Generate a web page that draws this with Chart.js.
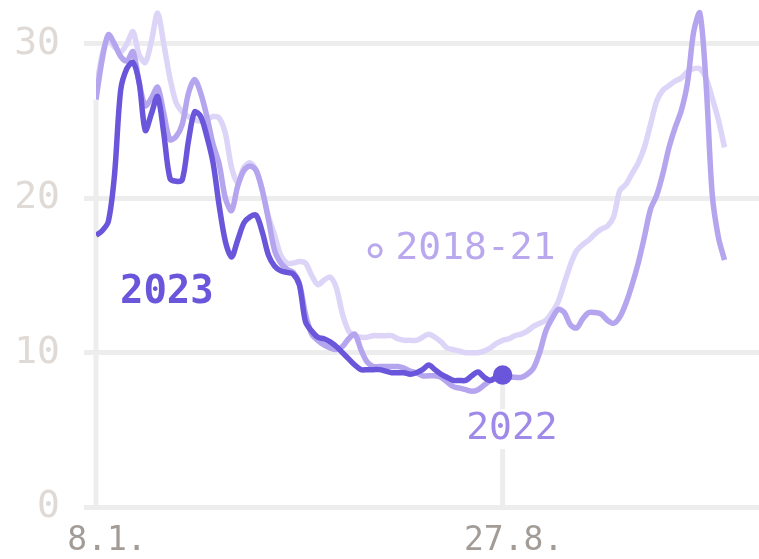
<!DOCTYPE html>
<html>
<head>
<meta charset="utf-8">
<script src="https://cdn.jsdelivr.net/npm/chart.js@4"></script>
<style>
  body { margin: 0; background: #fff; }
  #wrap { width: 759px; height: 559px; }
</style>
</head>
<body>
<div id="wrap"><canvas id="fluChart" width="759" height="559"></canvas></div>
<script>
// weekly dates, week 0 = 8.1.
const weekLabels = ["8.1.", "15.1.", "22.1.", "29.1.", "5.2.", "12.2.", "19.2.", "26.2.",
  "5.3.", "12.3.", "19.3.", "26.3.", "2.4.", "9.4.", "16.4.", "23.4.", "30.4.",
  "7.5.", "14.5.", "21.5.", "28.5.", "4.6.", "11.6.", "18.6.", "25.6.",
  "2.7.", "9.7.", "16.7.", "23.7.", "30.7.", "6.8.", "13.8.", "20.8.", "27.8.",
  "3.9.", "10.9.", "17.9.", "24.9.", "1.10.", "8.10.", "15.10.", "22.10.", "29.10.",
  "5.11.", "12.11.", "19.11.", "26.11.", "3.12.", "10.12.", "17.12.", "24.12.", "31.12."];
const tickWeeks = [0, 33];
const yTicks = [0, 10, 20, 30];

// values every half week
const step = 0.5;
const values2023 = [17.6, 17.9, 18.5, 21.5, 27.0, 28.4, 28.8, 27.5, 24.4, 25.5,
  26.6, 24.2, 21.3, 21.1, 21.2, 23.7, 25.6, 25.3, 24.0, 22.3,
  19.5, 17.2, 16.2, 17.3, 18.4, 18.8, 18.9, 17.8, 16.3, 15.6,
  15.3, 15.2, 15.1, 14.4, 12.0, 11.4, 11.0, 10.9, 10.7, 10.4,
  10.0, 9.6, 9.2, 8.9, 8.9, 8.9, 8.9, 8.8, 8.7, 8.7,
  8.7, 8.6, 8.7, 8.9, 9.2, 8.9, 8.6, 8.4, 8.2, 8.2,
  8.2, 8.5, 8.75, 8.4, 8.2, 8.4, 8.55];
const values2022 = [26.4, 29.0, 30.6, 30.0, 29.2, 28.9, 29.5, 27.5, 26.0, 26.5,
  27.2, 25.5, 23.8, 24.0, 24.8, 26.8, 27.7, 26.8, 25.3, 23.5,
  22.2, 20.0, 19.2, 20.8, 21.8, 22.1, 21.8, 20.5, 18.6, 16.6,
  15.8, 15.4, 15.2, 14.5, 12.5, 11.2, 10.8, 10.5, 10.3, 10.2,
  10.4, 10.9, 11.2, 10.2, 9.4, 9.1, 9.1, 9.1, 9.1, 9.1,
  9.0, 8.8, 8.7, 8.5, 8.5, 8.5, 8.4, 8.1, 7.8, 7.7,
  7.6, 7.5, 7.6, 7.9, 8.2, 8.4, 8.4, 8.4, 8.4, 8.4,
  8.6, 9.0, 10.0, 11.4, 12.2, 12.8, 12.6, 11.8, 11.6, 12.2,
  12.6, 12.6, 12.5, 12.1, 11.9, 12.3, 13.2, 14.4, 15.8, 17.5,
  19.3, 20.2, 21.6, 23.3, 24.6, 25.7, 27.5, 30.8, 32.0, 27.5,
  20.3, 17.5, 16.0];
const values2018to21 = [27.0, 29.3, 30.3, 29.8, 29.5, 30.0, 30.8, 29.3, 28.8, 30.2,
  32.0, 30.0, 27.8, 26.2, 25.6, 25.3, 25.1, 25.0, 25.1, 25.3,
  25.2, 24.2, 22.0, 21.0, 22.0, 22.3, 21.8, 20.5, 18.8, 17.6,
  16.3, 15.8, 15.8, 15.9, 15.8, 15.0, 14.4, 14.7, 14.9, 14.2,
  12.5, 11.4, 11.1, 11.0, 11.0, 11.1, 11.1, 11.1, 11.1, 10.9,
  10.8, 10.8, 10.8, 11.0, 11.2, 11.0, 10.7, 10.3, 10.2, 10.1,
  10.0, 10.0, 10.0, 10.1, 10.3, 10.6, 10.8, 10.9, 11.1, 11.2,
  11.4, 11.7, 11.9, 12.1, 12.6, 13.3, 14.5, 15.7, 16.6, 17.0,
  17.3, 17.7, 18.0, 18.2, 18.8, 20.5, 20.9, 21.6, 22.3, 23.3,
  24.8, 26.3, 27.0, 27.3, 27.6, 27.8, 28.2, 28.4, 28.4, 27.8,
  26.5, 25.1, 23.3];

const DARK = "#6a56da";
const MID = "#b5a5ee";
const LIGHT = "#ddd5f8";
const GRID = "#ededed";
const FONT = '"DejaVu Sans Mono", "Liberation Mono", monospace';

function toPoints(arr) {
  return arr.map((v, i) => ({ x: i * step, y: v }));
}

// drop lines under first point and the highlighted last point
const dropLines = {
  id: "dropLines",
  beforeDatasetsDraw(chart) {
    const { ctx, scales: { x, y } } = chart;
    const lines = [
      { week: 0, value: values2022[0] },
      { week: (values2023.length - 1) * step, value: values2023[values2023.length - 1] }
    ];
    ctx.save();
    ctx.strokeStyle = GRID;
    ctx.lineWidth = 5;
    lines.forEach(l => {
      ctx.beginPath();
      ctx.moveTo(x.getPixelForValue(l.week), y.getPixelForValue(l.value));
      ctx.lineTo(x.getPixelForValue(l.week), y.getPixelForValue(0));
      ctx.stroke();
    });
    ctx.restore();
  }
};

const seriesLabels = {
  id: "seriesLabels",
  afterDatasetsDraw(chart) {
    const { ctx, scales: { x, y } } = chart;
    ctx.save();
    ctx.textBaseline = "middle";

    ctx.font = "bold 39px " + FONT;
    ctx.fillStyle = DARK;
    ctx.textAlign = "center";
    ctx.fillText("2023", x.getPixelForValue(5.75), y.getPixelForValue(13.9));

    ctx.font = "38px " + FONT;
    ctx.fillStyle = "#b9a8ee";
    ctx.textAlign = "left";
    ctx.fillText("2018-21", x.getPixelForValue(24.3), y.getPixelForValue(16.7));
    ctx.strokeStyle = "#b9a8ee";
    ctx.lineWidth = 3;
    ctx.beginPath();
    ctx.arc(x.getPixelForValue(22.65), y.getPixelForValue(16.6), 6, 0, Math.PI * 2);
    ctx.stroke();

    // 2022 label sits on the drop line
    const cx = x.getPixelForValue(33.75), cy = y.getPixelForValue(5.05);
    ctx.fillStyle = "#fff";
    ctx.fillRect(cx - 50, cy - 20, 100, 40);
    ctx.fillStyle = "#9f89e9";
    ctx.textAlign = "center";
    ctx.fillText("2022", cx, cy);
    ctx.restore();
  }
};

const lastIdx = values2023.length - 1;

new Chart(document.getElementById("fluChart"), {
  type: "line",
  data: {
    datasets: [
      {
        label: "2023",
        data: toPoints(values2023),
        borderColor: DARK,
        backgroundColor: DARK,
        borderWidth: 5.5,
        tension: 0.3,
        pointRadius: ctx => ctx.dataIndex === lastIdx ? 7 : 0,
        pointHoverRadius: 0
      },
      {
        label: "2022",
        data: toPoints(values2022),
        borderColor: MID,
        borderWidth: 5.5,
        tension: 0.3,
        pointRadius: 0
      },
      {
        label: "2018-21",
        data: toPoints(values2018to21),
        borderColor: LIGHT,
        borderWidth: 5.5,
        tension: 0.3,
        pointRadius: 0
      }
    ]
  },
  options: {
    responsive: false,
    animation: false,
    layout: { padding: 0, autoPadding: false },
    plugins: {
      legend: { display: false },
      tooltip: { enabled: false }
    },
    scales: {
      x: {
        type: "linear",
        min: 0,
        max: 53.8,
        border: { display: false },
        grid: { display: false, drawTicks: false },
        afterBuildTicks: s => { s.ticks = tickWeeks.map(v => ({ value: v })); },
        afterFit: s => { s.height = 52; s.paddingLeft = 0; s.paddingRight = 0; },
        ticks: {
          color: "#a39c96",
          font: { family: FONT, size: 33 },
          padding: 15,
          labelOffset: 11,
          maxRotation: 0,
          callback: v => weekLabels[v]
        }
      },
      y: {
        min: 0,
        max: 32.85,
        border: { display: false },
        grid: { color: GRID, lineWidth: 5, tickLength: 12 },
        afterBuildTicks: s => { s.ticks = yTicks.map(v => ({ value: v })); },
        afterFit: s => { s.width = 96; s.paddingTop = 0; s.paddingBottom = 0; },
        ticks: {
          color: "#dfdad6",
          font: { family: FONT, size: 38 },
          padding: 24
        }
      }
    }
  },
  plugins: [dropLines, seriesLabels]
});
</script>
</body>
</html>
